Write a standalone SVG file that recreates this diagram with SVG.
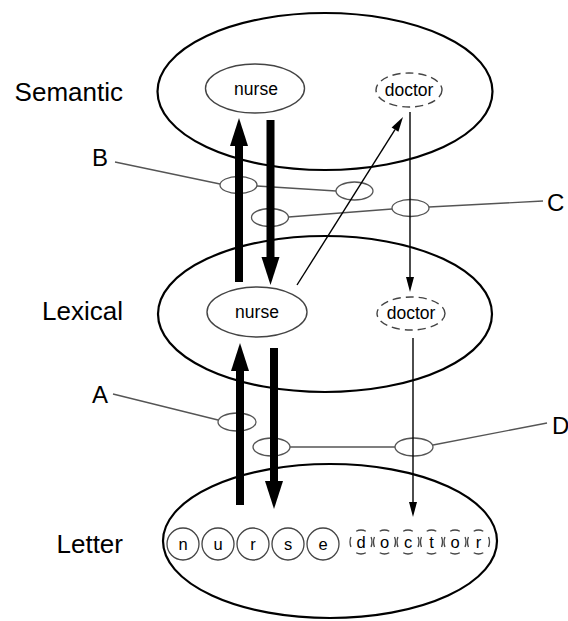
<svg xmlns="http://www.w3.org/2000/svg" width="568" height="621" viewBox="0 0 568 621">
<style>
.layer{fill:none;stroke:#000;stroke-width:2.2}
.lbl{font-family:"Liberation Sans",Arial,sans-serif;font-size:26px;fill:#000}
.tag{font-family:"Liberation Sans",Arial,sans-serif;font-size:24px;fill:#000}
.word{fill:none;stroke:#444;stroke-width:1.4}
.dword{fill:none;stroke:#444;stroke-width:1.4;stroke-dasharray:8 5}
.wtxt{font-family:"Liberation Sans",Arial,sans-serif;font-size:17.5px;fill:#000;text-anchor:middle}
.ltxt{font-family:"Liberation Sans",Arial,sans-serif;font-size:16.5px;fill:#000;text-anchor:middle}
.lc{fill:none;stroke:#444;stroke-width:1.3}
.dl{fill:none;stroke:#444;stroke-width:1.3;stroke-dasharray:10 8;stroke-dashoffset:5}
.link{fill:none;stroke:#555;stroke-width:1.3}
.thick{stroke:#000;stroke-width:8;fill:none}
.thin{stroke:#000;stroke-width:1.4;fill:none}
</style>
<defs>
<marker id="bigHead" markerUnits="userSpaceOnUse" markerWidth="28" markerHeight="18" refX="0" refY="9" orient="auto" overflow="visible">
<path d="M0,0 L28,9 L0,18 z" fill="#000"/>
</marker>
<marker id="smallHead" markerUnits="userSpaceOnUse" markerWidth="15" markerHeight="8" refX="0" refY="4" orient="auto" overflow="visible">
<path d="M0,0 L15,4 L0,8 z" fill="#000"/>
</marker>
</defs>
<rect width="568" height="621" fill="#fff"/>

<g id="semantic">
<ellipse class="layer" cx="325" cy="91.5" rx="167.5" ry="78.5"/>
<text class="lbl" x="123" y="101" text-anchor="end">Semantic</text>
</g>
<g id="lexical">
<ellipse class="layer" cx="325" cy="314" rx="167" ry="78"/>
<text class="lbl" x="123" y="320" text-anchor="end">Lexical</text>
</g>
<g id="letter">
<ellipse class="layer" cx="330" cy="541" rx="167" ry="77"/>
<text class="lbl" x="123" y="553" text-anchor="end">Letter</text>
</g>

<g id="sem-nurse">
<ellipse class="word" cx="255" cy="88.5" rx="49.5" ry="24.5"/>
<text class="wtxt" x="256" y="95">nurse</text>
</g>
<g id="sem-doctor">
<ellipse class="dword" cx="409" cy="90" rx="33" ry="17"/>
<text class="wtxt" x="409" y="96">doctor</text>
</g>
<g id="lex-nurse">
<ellipse class="word" cx="257" cy="312" rx="50" ry="25"/>
<text class="wtxt" x="257" y="318">nurse</text>
</g>
<g id="lex-doctor">
<ellipse class="dword" cx="411" cy="313.5" rx="34" ry="16.5"/>
<text class="wtxt" x="411" y="319">doctor</text>
</g>

<g id="letters-nurse">
<circle class="lc" cx="183" cy="544" r="16"/><text class="ltxt" x="183" y="549.5">n</text>
<circle class="lc" cx="218" cy="544" r="16"/><text class="ltxt" x="218" y="549.5">u</text>
<circle class="lc" cx="253" cy="544" r="16"/><text class="ltxt" x="253" y="549.5">r</text>
<circle class="lc" cx="288" cy="544" r="16"/><text class="ltxt" x="288" y="549.5">s</text>
<circle class="lc" cx="323" cy="544" r="16"/><text class="ltxt" x="323" y="549.5">e</text>
</g>
<g id="letters-doctor">
<ellipse class="dl" cx="361" cy="542" rx="11" ry="12" pathLength="72"/><text class="ltxt" x="361" y="548">d</text>
<ellipse class="dl" cx="384.5" cy="542" rx="11" ry="12" pathLength="72"/><text class="ltxt" x="384.5" y="548">o</text>
<ellipse class="dl" cx="408" cy="542" rx="11" ry="12" pathLength="72"/><text class="ltxt" x="408" y="548">c</text>
<ellipse class="dl" cx="431.5" cy="542" rx="11" ry="12" pathLength="72"/><text class="ltxt" x="431.5" y="548">t</text>
<ellipse class="dl" cx="455" cy="542" rx="11" ry="12" pathLength="72"/><text class="ltxt" x="455" y="548">o</text>
<ellipse class="dl" cx="478.5" cy="542" rx="11" ry="12" pathLength="72"/><text class="ltxt" x="478.5" y="548">r</text>
</g>

<g id="pathway-B">
<text class="tag" x="92" y="166">B</text>
<ellipse class="link" cx="238.5" cy="185" rx="18.5" ry="8.5"/>
<ellipse class="link" cx="354.5" cy="191" rx="18.5" ry="9"/>
</g>
<g id="pathway-C">
<text class="tag" x="547" y="211">C</text>
<ellipse class="link" cx="270" cy="217.5" rx="18.5" ry="9"/>
<ellipse class="link" cx="410.5" cy="208" rx="18.5" ry="8.5"/>
</g>
<g id="pathway-A">
<text class="tag" x="92" y="403">A</text>
<ellipse class="link" cx="237" cy="422" rx="19" ry="9"/>
</g>
<g id="pathway-D">
<text class="tag" x="552" y="434">D</text>
<ellipse class="link" cx="271.5" cy="447" rx="18.5" ry="9"/>
<ellipse class="link" cx="414" cy="447" rx="19" ry="9"/>
</g>

<g id="connectors">
<line class="link" x1="115" y1="162" x2="220" y2="184"/>
<line class="link" x1="257" y1="186" x2="336" y2="191"/>
<line class="link" x1="288.5" y1="217" x2="392" y2="209"/>
<line class="link" x1="429" y1="207" x2="543" y2="201"/>
<line class="link" x1="113" y1="394" x2="218" y2="420"/>
<line class="link" x1="290" y1="447" x2="395" y2="447"/>
<line class="link" x1="433" y1="445" x2="547" y2="423"/>

<line class="thick" x1="239" y1="282" x2="239" y2="146" marker-end="url(#bigHead)"/>
<line class="thick" x1="270.5" y1="120" x2="270.5" y2="257" marker-end="url(#bigHead)"/>
<line class="thick" x1="240" y1="505" x2="240" y2="371" marker-end="url(#bigHead)"/>
<line class="thick" x1="274" y1="348" x2="274" y2="481" marker-end="url(#bigHead)"/>

<line class="thin" x1="297" y1="285" x2="395" y2="129.7" marker-end="url(#smallHead)"/>
<line class="thin" x1="410" y1="112" x2="410" y2="277" marker-end="url(#smallHead)"/>
<line class="thin" x1="413" y1="338" x2="413" y2="502" marker-end="url(#smallHead)"/>
</g>
</svg>
